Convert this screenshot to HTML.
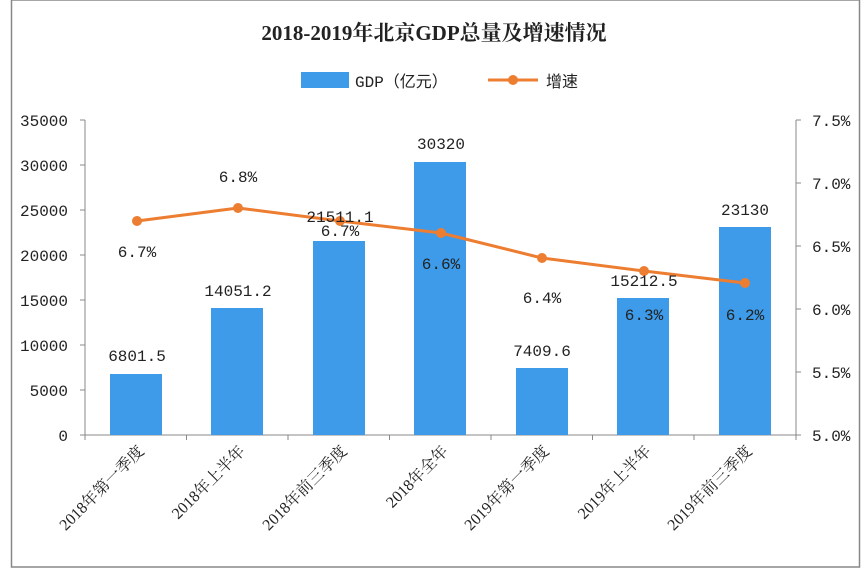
<!DOCTYPE html>
<html><head><meta charset="utf-8"><style>
body{margin:0;background:#fff;}
svg{display:block;font-family:"Liberation Serif","Noto Serif CJK SC",serif;}
.m{font-family:"Liberation Mono","Noto Sans CJK SC",monospace;font-size:16px;fill:#222;}
</style></head><body>
<svg width="868" height="575" viewBox="0 0 868 575">
<rect x="11.5" y="0" width="848" height="567" fill="#fff" stroke="#888" stroke-width="1.5"/>
<text x="434" y="40" text-anchor="middle" font-size="21" font-weight="bold" fill="#222">2018-2019年北京GDP总量及增速情况</text>
<rect x="301" y="72" width="48" height="16" fill="#3d9be9"/>
<text x="355" y="87" class="m">GDP（亿元）</text>
<line x1="488" y1="80" x2="538" y2="80" stroke="#ed7d31" stroke-width="3"/>
<circle cx="513" cy="80" r="5" fill="#ed7d31"/>
<text x="546" y="87" class="m">增速</text>
<g class="m" text-anchor="end">
<text x="68" y="441">0</text><text x="68" y="396">5000</text><text x="68" y="351">10000</text><text x="68" y="306">15000</text><text x="68" y="261">20000</text><text x="68" y="216">25000</text><text x="68" y="171">30000</text><text x="68" y="126">35000</text>
</g>
<g class="m">
<text x="812" y="441">5.0%</text><text x="812" y="378">5.5%</text><text x="812" y="315">6.0%</text><text x="812" y="252">6.5%</text><text x="812" y="189">7.0%</text><text x="812" y="126">7.5%</text>
</g>
<line x1="85" y1="120" x2="85" y2="435" stroke="#888"/>
<line x1="796" y1="120" x2="796" y2="435" stroke="#888"/>
<line x1="80" y1="435" x2="796" y2="435" stroke="#888"/>
<g stroke="#888">
<line x1="80" y1="120" x2="85" y2="120"/><line x1="80" y1="165" x2="85" y2="165"/><line x1="80" y1="210" x2="85" y2="210"/><line x1="80" y1="255" x2="85" y2="255"/><line x1="80" y1="300" x2="85" y2="300"/><line x1="80" y1="345" x2="85" y2="345"/><line x1="80" y1="390" x2="85" y2="390"/>
<line x1="796" y1="120" x2="801" y2="120"/><line x1="796" y1="183" x2="801" y2="183"/><line x1="796" y1="246" x2="801" y2="246"/><line x1="796" y1="309" x2="801" y2="309"/><line x1="796" y1="372" x2="801" y2="372"/><line x1="796" y1="435" x2="801" y2="435"/>
<line x1="85" y1="435" x2="85" y2="440"/><line x1="186.5" y1="435" x2="186.5" y2="440"/><line x1="288" y1="435" x2="288" y2="440"/><line x1="389.5" y1="435" x2="389.5" y2="440"/><line x1="491" y1="435" x2="491" y2="440"/><line x1="592.5" y1="435" x2="592.5" y2="440"/><line x1="694" y1="435" x2="694" y2="440"/><line x1="796" y1="435" x2="796" y2="440"/>
</g>
<g fill="#3d9be9">
<rect x="110" y="374" width="52" height="61"/>
<rect x="211" y="308" width="52" height="127"/>
<rect x="313" y="241" width="52" height="194"/>
<rect x="414" y="162" width="52" height="273"/>
<rect x="516" y="368" width="52" height="67"/>
<rect x="617" y="298" width="52" height="137"/>
<rect x="719" y="227" width="52" height="208"/>
</g>
<polyline points="137,221 238,208 340,221 441,233 542,258 644,271 745,283" fill="none" stroke="#ed7d31" stroke-width="3" stroke-linejoin="round"/>
<g fill="#ed7d31">
<circle cx="137" cy="221" r="5"/><circle cx="238" cy="208" r="5"/><circle cx="340" cy="221" r="5"/><circle cx="441" cy="233" r="5"/><circle cx="542" cy="258" r="5"/><circle cx="644" cy="271" r="5"/><circle cx="745" cy="283" r="5"/>
</g>
<g class="m" text-anchor="middle">
<text x="137" y="361">6801.5</text><text x="238" y="296">14051.2</text><text x="340" y="222">21511.1</text><text x="441" y="149">30320</text><text x="542" y="356">7409.6</text><text x="644" y="286">15212.5</text><text x="745" y="215">23130</text>
<text x="137" y="257">6.7%</text><text x="238" y="182">6.8%</text><text x="340" y="236">6.7%</text><text x="441" y="269">6.6%</text><text x="542" y="303">6.4%</text><text x="644" y="320">6.3%</text><text x="745" y="320">6.2%</text>
</g>
<g font-size="16" fill="#222" text-anchor="end">
<text transform="translate(145,452) rotate(-45)">2018年第一季度</text>
<text transform="translate(246,452) rotate(-45)">2018年上半年</text>
<text transform="translate(348,452) rotate(-45)">2018年前三季度</text>
<text transform="translate(449,452) rotate(-45)">2018年全年</text>
<text transform="translate(550,452) rotate(-45)">2019年第一季度</text>
<text transform="translate(652,452) rotate(-45)">2019年上半年</text>
<text transform="translate(753,452) rotate(-45)">2019年前三季度</text>
</g>
</svg>
</body></html>
